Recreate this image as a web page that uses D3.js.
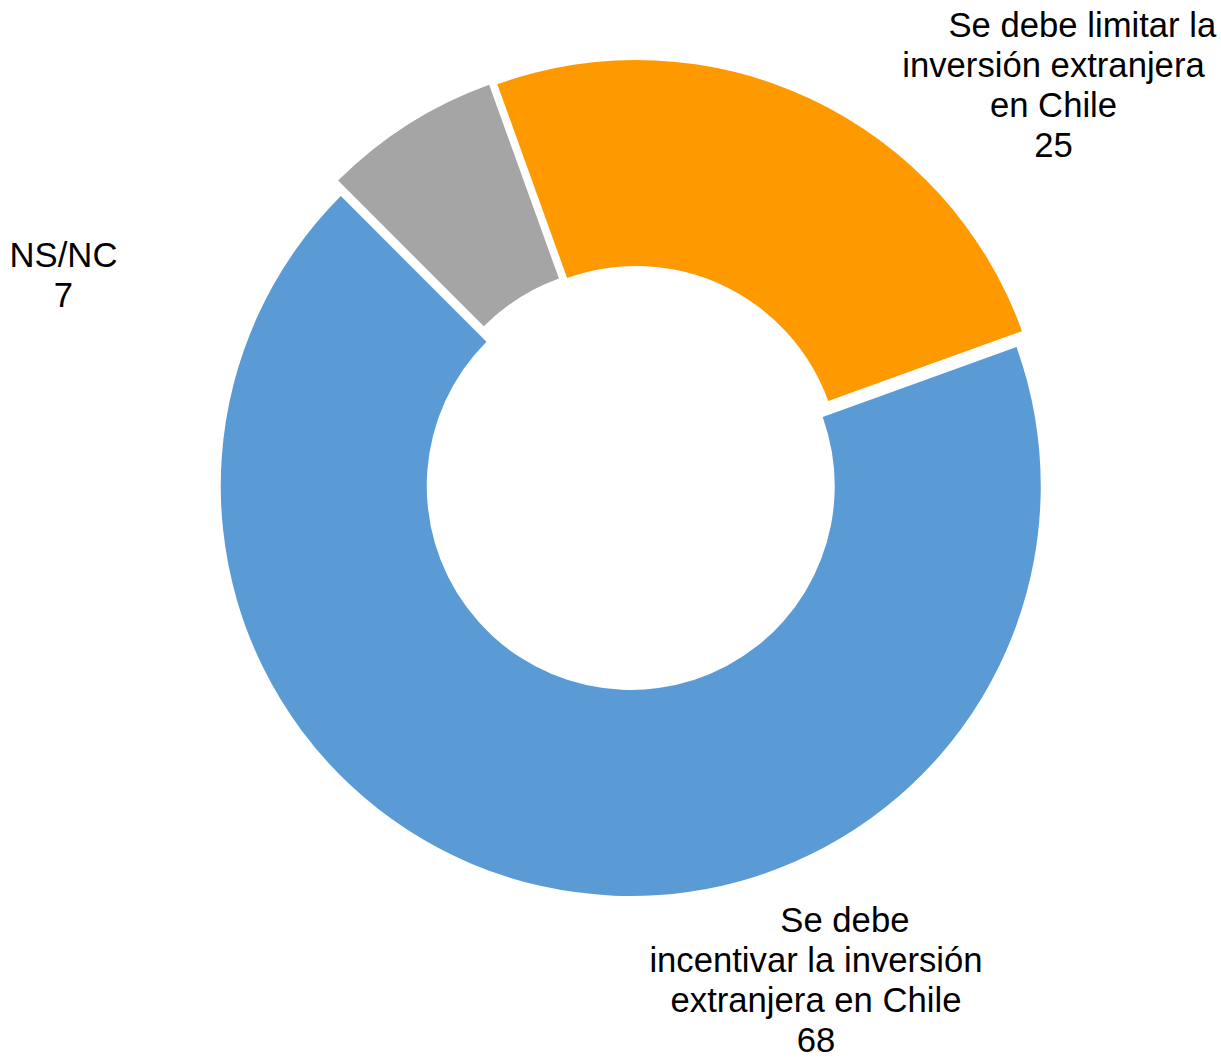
<!DOCTYPE html>
<html>
<head>
<meta charset="utf-8">
<script src="https://cdn.jsdelivr.net/npm/d3@7"></script>
<style>
  html, body { margin: 0; padding: 0; background: #ffffff; }
  svg { display: block; }
  text { font-family: "Liberation Sans", Arial, sans-serif; fill: #000000; white-space: pre; }
</style>
</head>
<body>
<script>
// ---- data ----
const categories = [
  "Se debe limitar la inversión extranjera en Chile",
  "Se debe incentivar la inversión extranjera en Chile",
  "NS/NC"
];
const values = [25, 68, 7];
const colors = ["#FF9900", "#5B9BD5", "#A5A5A5"];
const labelLines = [
  ["      Se debe limitar la", "inversión extranjera", "en Chile"],
  ["      Se debe", "incentivar la inversión", "extranjera en Chile"],
  ["NS/NC"]
];

// ---- layout ----
const W = 1221, H = 1058;
const cx = 632.6, cy = 477.7;
const outerR = 410, innerR = 204;
const explode = 8.5;
const startDeg = -19.8;
const fontSize = 34.67, lineH = 40;
const labelPos = [
  { x: 1053.5, y: 37 },
  { x: 816, y: 932 },
  { x: 63.5, y: 267 }
];

const svg = d3.select("body").append("svg")
  .attr("width", W).attr("height", H);

const data = categories.map((c, i) => ({ name: c, value: values[i], color: colors[i], lines: labelLines[i], pos: labelPos[i] }));

const start = startDeg * Math.PI / 180;
const pie = d3.pie().sort(null).value(d => d.value)
  .startAngle(start).endAngle(start + 2 * Math.PI);
const arc = d3.arc().innerRadius(innerR).outerRadius(outerR);

const g = svg.append("g").attr("transform", `translate(${cx},${cy})`);

g.selectAll("path.slice")
  .data(pie(data))
  .join("path")
  .attr("class", "slice")
  .attr("d", arc)
  .attr("fill", d => d.data.color)
  .attr("transform", d => {
    const a = (d.startAngle + d.endAngle) / 2;
    return `translate(${explode * Math.sin(a)},${-explode * Math.cos(a)})`;
  });

// ---- labels ----
const labels = svg.selectAll("text.lbl")
  .data(data)
  .join("text")
  .attr("class", "lbl")
  .attr("text-anchor", "middle")
  .attr("font-size", fontSize)
  .attr("x", d => d.pos.x)
  .attr("y", d => d.pos.y);

labels.each(function(d) {
  const t = d3.select(this);
  const all = d.lines.concat([String(d.value)]);
  all.forEach((ln, i) => {
    t.append("tspan")
      .attr("x", d.pos.x)
      .attr("y", d.pos.y + i * lineH)
      .text(ln);
  });
});
</script>
</body>
</html>
